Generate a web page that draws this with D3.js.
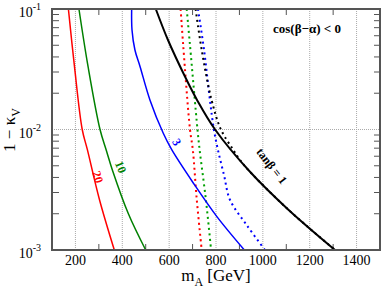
<!DOCTYPE html>
<html>
<head>
<meta charset="utf-8">
<script src="https://cdn.jsdelivr.net/npm/d3@7"></script>
<style>
  body { margin: 0; background: #fff; }
  svg { display: block; font-family: "Liberation Serif", "DejaVu Serif", serif; }
</style>
</head>
<body>
<div id="chart"></div>
<script>
// tanb curves, [mA, 1 - kappaV]
const tb20 = [[170, 0.1], [196, 0.0332], [229, 0.01], [251, 0.0068], [303, 0.0026], [366, 0.001]];
const tb10 = [[215, 0.1], [254, 0.0332], [305, 0.01], [331, 0.0068], [358, 0.0046], [426, 0.002], [500, 0.001]];
const tb3 = [[440, 0.1], [441.5, 0.067], [454, 0.0457], [476, 0.0332], [518, 0.0176], [575, 0.0093], [611, 0.0068], [703, 0.0036], [803, 0.0019], [921, 0.001]];
const tb1 = [[543, 0.1], [595, 0.0553], [668, 0.0274], [719, 0.0176], [796, 0.01], [945, 0.00446], [1109, 0.00216], [1308, 0.001]];
// dotted companions
const tb20d = [[649, 0.1], [660, 0.05], [689, 0.01], [701, 0.0068], [718, 0.0026], [739, 0.001]];
const tb10d = [[675, 0.1], [689, 0.05], [721, 0.01], [730, 0.0068], [757, 0.0026], [779, 0.001]];
const tb3d = [[723, 0.1], [749, 0.0457], [774, 0.0176], [791, 0.01], [808, 0.0068], [834, 0.0042], [860, 0.0026], [932, 0.0016], [1009, 0.001]];
const tb1d = [[713, 0.1], [739, 0.0457], [781, 0.0176], [821, 0.01], [873, 0.0068], [902, 0.0056], [945, 0.00446], [1109, 0.00216], [1308, 0.001]];

const xTicks = [200, 400, 600, 800, 1000, 1200, 1400];
const xMinor = [300, 500, 700, 900, 1100, 1300];
const yTicks = [0.1, 0.01, 0.001];

const width = 382, height = 290;
const margin = {left: 52, right: 2, top: 9, bottom: 40};

const svg = d3.select('#chart').append('svg')
    .attr('width', width)
    .attr('height', height);
svg.append('rect').attr('width', width).attr('height', height).attr('fill', '#fff');

const x = d3.scaleLinear().domain([100, 1500]).range([margin.left, width - margin.right]);
const y = d3.scaleLog().domain([0.001, 0.1]).range([height - margin.bottom, margin.top]);

// grid
svg.append('g').selectAll('line')
    .data(xTicks)
    .join('line')
    .attr('x1', d => x(d)).attr('x2', d => x(d))
    .attr('y1', y(0.1)).attr('y2', y(0.001))
    .attr('stroke', '#aaa').attr('stroke-width', 1).attr('stroke-dasharray', '1,1');
svg.append('line')
    .attr('x1', x(100)).attr('x2', x(1500))
    .attr('y1', y(0.01)).attr('y2', y(0.01))
    .attr('stroke', '#aaa').attr('stroke-width', 1).attr('stroke-dasharray', '1,1');

// minor ticks
const minorY = [];
[0.001, 0.01].forEach(b => { for (let k = 2; k <= 9; k++) minorY.push(b * k); });
const tickG = svg.append('g').attr('stroke', '#555').attr('stroke-width', 1);
minorY.forEach(v => {
    tickG.append('line').attr('x1', x(100)).attr('x2', x(100) + 7).attr('y1', y(v)).attr('y2', y(v));
    tickG.append('line').attr('x1', x(1500)).attr('x2', x(1500) - 6).attr('y1', y(v)).attr('y2', y(v));
});
xMinor.forEach(v => {
    tickG.append('line').attr('x1', x(v)).attr('x2', x(v)).attr('y1', y(0.001)).attr('y2', y(0.001) - 6);
    tickG.append('line').attr('x1', x(v)).attr('x2', x(v)).attr('y1', y(0.1)).attr('y2', y(0.1) + 6);
});

// curves
const line = d3.line()
    .x(d => x(d[0]))
    .y(d => y(d[1]))
    .curve(d3.curveCatmullRom.alpha(0.5));

const series = [
    {data: tb20d, color: '#ff0000', dotted: true},
    {data: tb10d, color: '#00a000', dotted: true},
    {data: tb3d, color: '#0000ff', dotted: true},
    {data: tb1d, color: '#000000', dotted: true},
    {data: tb20, color: '#ff0000', dotted: false},
    {data: tb10, color: '#008000', dotted: false},
    {data: tb3, color: '#0000ff', dotted: false},
    {data: tb1, color: '#000000', dotted: false, w: 2}
];
svg.append('g').selectAll('path')
    .data(series)
    .join('path')
    .attr('d', d => line(d.data))
    .attr('fill', 'none')
    .attr('stroke', d => d.color)
    .attr('stroke-width', d => d.w || (d.dotted ? 2 : 1.5))
    .attr('stroke-dasharray', d => d.dotted ? '2,3.5' : null);

// frame
svg.append('rect')
    .attr('x', x(100)).attr('y', y(0.1))
    .attr('width', x(1500) - x(100)).attr('height', y(0.001) - y(0.1))
    .attr('fill', 'none').attr('stroke', '#555').attr('stroke-width', 2);

// tick labels
svg.append('g').selectAll('text')
    .data(xTicks)
    .join('text')
    .attr('x', d => x(d)).attr('y', 265)
    .attr('text-anchor', 'middle')
    .attr('font-size', 14)
    .text(d => d);

const yl = svg.append('g').selectAll('text')
    .data(yTicks)
    .join('text')
    .attr('x', 41).attr('y', d => y(d) + 8)
    .attr('text-anchor', 'end')
    .attr('font-size', 14)
    .text('10');
yl.append('tspan').attr('dy', -7).attr('font-size', 10).text(d => '-' + Math.round(-Math.log10(d)));

// axis titles
const xt = svg.append('text')
    .attr('x', 216).attr('y', 281)
    .attr('text-anchor', 'middle')
    .attr('font-size', 17);
xt.append('tspan').text('m');
xt.append('tspan').attr('dy', 5).attr('font-size', 12).text('A');
xt.append('tspan').attr('dy', -5).text(' [GeV]');

const ytl = svg.append('text')
    .attr('transform', 'translate(15,130) rotate(-90)')
    .attr('text-anchor', 'middle')
    .attr('font-size', 17);
ytl.append('tspan').text('1 \u2212 \u03ba');
ytl.append('tspan').attr('dy', 5).attr('font-size', 12).text('V');

// annotations
svg.append('text')
    .attr('x', 307).attr('y', 33)
    .attr('text-anchor', 'middle')
    .attr('font-size', 13).attr('font-weight', 'bold')
    .text('cos(\u03b2\u2212\u03b1) < 0');

const notes = [
    {t: '20', x: 98, y: 177, r: 72, c: '#ff0000'},
    {t: '10', x: 121, y: 167, r: 68, c: '#008000'},
    {t: '3', x: 177, y: 142, r: 60, c: '#0000ff'},
    {t: 'tan\u03b2 = 1', x: 272, y: 166, r: 52, c: '#000000'}
];
svg.append('g').selectAll('text')
    .data(notes)
    .join('text')
    .attr('transform', d => `translate(${d.x},${d.y}) rotate(${d.r})`)
    .attr('text-anchor', 'middle')
    .attr('dy', '0.35em')
    .attr('font-size', 12).attr('font-weight', 'bold')
    .attr('fill', d => d.c)
    .text(d => d.t);
</script>
</body>
</html>
